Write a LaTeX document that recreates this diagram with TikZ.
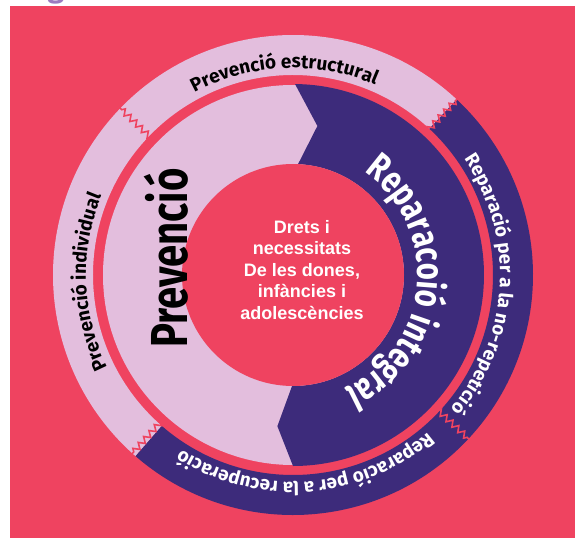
\documentclass[tikz,border=0pt]{standalone}
\usepackage{fontspec}
\setmainfont{Fira Sans}
\newfontfamily\condfont[FakeStretch=0.77]{Fira Sans}
\newfontfamily\centerfont{Liberation Sans}
\usetikzlibrary{decorations.text,decorations.pathmorphing}
\definecolor{bgred}{HTML}{EF4360}
\definecolor{lilac}{HTML}{E3BEDD}
\definecolor{deeppurple}{HTML}{3D2B7B}
\definecolor{headpurple}{HTML}{9B7CC0}
\tikzset{
  zig/.style={bgred, line width=1.6pt, decorate, decoration={zigzag, segment length=8pt, amplitude=3pt}},
  ringtext/.style={decorate, decoration={text along path, text align=center, text={#1}}},
}
\begin{document}
\begin{tikzpicture}[x=1pt,y=1pt]
\useasboundingbox (0,0) rectangle (575,539);
\fill[white] (0,0) rectangle (575,539);
\fill[bgred] (10,1) rectangle (575,533);
\node[headpurple, font=\bfseries\fontsize{30}{30}\selectfont, anchor=base] (head) at (56,541) {g};
\begin{scope}[shift={(293,264)}]
  % outer ring
  \fill[lilac] (47:240) arc[start angle=47, end angle=229, radius=240] -- (229:200) arc[start angle=229, end angle=47, radius=200] -- cycle;
  \fill[deeppurple] (-131:240) arc[start angle=-131, end angle=47, radius=240] -- (47:200) arc[start angle=47, end angle=-131, radius=200] -- cycle;
  \foreach \a in {136,47,-43,-132} {
    \draw[zig] (\a:198) -- (\a:242);
  }
  % middle ring
  \fill[lilac] (0,0) circle[radius=190];
  \fill[deeppurple] (89.4:191) arc[start angle=89.4, end angle=-90, radius=191] -- (-95.9:152) -- (-90.5:111) arc[start angle=-90.5, end angle=87.4, radius=111] -- (80.7:151) -- cycle;
  % inner circle
  \fill[bgred] (0,0) circle[radius=111];
  % outer texts
  \path[ringtext={|\bfseries\fontsize{19}{19}\selectfont|Prevenció estructural}] (170:207) arc[start angle=170, end angle=15, radius=207];
  \path[ringtext={|\bfseries\fontsize{19}{19}\selectfont|Prevenció individual}] (257:207) arc[start angle=257, end angle=107, radius=207];
  \path[ringtext={|\color{white}\bfseries\fontsize{19}{19}\selectfont|Reparació per a la no-repetició}] (75:207) arc[start angle=75, end angle=-81, radius=207];
  \path[ringtext={|\color{white}\bfseries\fontsize{19}{19}\selectfont|Reparació per a la recuperació}] (-8:207) arc[start angle=-8, end angle=-164, radius=207];
  % middle texts
  \path[ringtext={|\color{white}\condfont\bfseries\fontsize{38}{38}\selectfont|Reparacoió integral}] (85:125) arc[start angle=85, end angle=-95, radius=125];
\end{scope}
\node[font=\condfont\bfseries\fontsize{52}{52}\selectfont, rotate=90] (prev) at (166,281) {Prevenció};
\node[text=white, font=\centerfont\bfseries\fontsize{18}{21.5}\selectfont, align=center] (centertext) at (302,269) {Drets i\\necessitats\\De les dones,\\infàncies i\\adolescències};
\end{tikzpicture}
\end{document}
